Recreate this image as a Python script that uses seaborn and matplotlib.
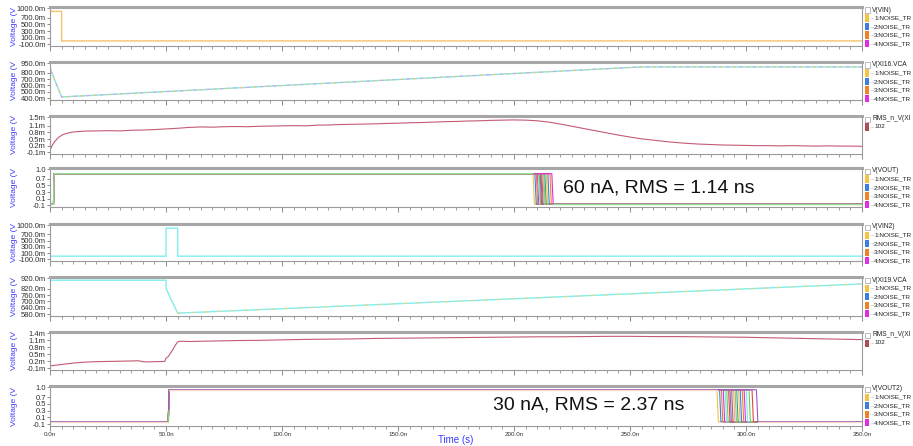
import numpy as np
import pandas as pd
import matplotlib
matplotlib.use("Agg")
import matplotlib.pyplot as plt
import seaborn as sns
from matplotlib.patches import Rectangle
from matplotlib.ticker import MultipleLocator

sns.set_theme(style="white")
plt.rcParams['font.family'] = ['Liberation Sans', 'DejaVu Sans']

# ---- data (time in ns, voltage in V, RMS in mV) ----
vin_t = [0, 0.02, 5.0, 5.02, 350]
vin_v = [0.0, 0.9, 0.9, 0.0, 0.0]

vcap1_t = [0, 0.3, 5.0, 255, 350]
vcap1_v = [0.93, 0.84, 0.42, 0.89, 0.89]

rms1_t = [0, 1, 2, 3, 4, 5, 6, 8, 10, 12, 15, 20, 25, 30, 35, 40, 45, 50, 55, 60, 65, 70, 75, 80,
          85, 90, 95, 100, 105, 110, 115, 120, 125, 130, 135, 140, 145, 150, 155, 160, 165, 170,
          175, 180, 185, 190, 195, 200, 205, 210, 215, 220, 225, 230, 235, 240, 245, 250, 255,
          260, 265, 270, 275, 280, 285, 290, 295, 300, 305, 310, 315, 320, 325, 330, 335, 340,
          345, 350]
rms1_v = [0.0, 0.22, 0.38, 0.5, 0.6, 0.67, 0.72, 0.78, 0.82, 0.84, 0.86, 0.87, 0.88, 0.87, 0.90,
          0.91, 0.93, 0.96, 0.99, 1.03, 1.05, 1.04, 1.06, 1.07, 1.06, 1.08, 1.09, 1.10, 1.11, 1.10,
          1.13, 1.14, 1.16, 1.17, 1.18, 1.19, 1.21, 1.22, 1.24, 1.25, 1.27, 1.29, 1.30, 1.32, 1.33,
          1.35, 1.36, 1.37, 1.36, 1.33, 1.27, 1.18, 1.08, 0.98, 0.88, 0.78, 0.68, 0.59, 0.51, 0.45,
          0.39, 0.34, 0.30, 0.27, 0.25, 0.23, 0.22, 0.21, 0.20, 0.20, 0.19, 0.20, 0.19, 0.18, 0.19,
          0.18, 0.18, 0.17]

vout_low, vout_high, vout_rise = -0.07, 0.86, 1.5
vout_fall = [208.2, 209.0, 209.6, 210.1, 210.5, 210.9, 211.3, 211.6, 212.0, 212.4,
             212.8, 213.3, 213.9, 214.6, 215.5, 216.3]

vin2_t = [0, 50, 50.02, 55, 55.02, 350]
vin2_v = [0.0, 0.0, 0.9, 0.9, 0.0, 0.0]

vcap2_t = [0, 50, 50.05, 55, 350]
vcap2_v = [0.90, 0.90, 0.82, 0.59, 0.865]

rms2_t = [0, 5, 10, 15, 20, 25, 30, 35, 38, 40, 42, 45, 49.5, 50, 51, 52, 53, 54, 55, 56, 60, 70,
          80, 90, 100, 110, 120, 130, 140, 150, 160, 170, 180, 190, 200, 210, 220, 230, 240, 250,
          260, 270, 280, 290, 300, 310, 320, 330, 340, 350]
rms2_v = [0.0, 0.06, 0.12, 0.16, 0.18, 0.19, 0.20, 0.21, 0.22, 0.18, 0.17, 0.18, 0.19, 0.33, 0.40,
          0.55, 0.70, 0.88, 1.02, 1.05, 1.04, 1.06, 1.08, 1.09, 1.11, 1.13, 1.14, 1.15, 1.17, 1.18,
          1.19, 1.20, 1.21, 1.22, 1.23, 1.24, 1.24, 1.25, 1.26, 1.26, 1.25, 1.25, 1.24, 1.23, 1.22,
          1.20, 1.18, 1.16, 1.14, 1.12]

vout2_low, vout2_high, vout2_rise = -0.03, 0.92, 51.0
vout2_fall = [287.5, 288.6, 289.4, 290.2, 291.0, 291.7, 292.5, 293.1, 293.8, 294.6,
              295.3, 296.0, 296.8, 297.5, 298.4, 299.2, 300.1, 301.3, 302.6, 304.5]

trace_colors = ["#f5c242", "#3b7de0", "#f08228", "#e02ee0", "#6ff0f0", "#6ccf5a",
                "#e04848", "#9a5ad8", "#a0703a", "#f59ac8", "#9ec83c", "#2aa8a8"]

yticks = {
    "vin": ([1.0, 0.7, 0.5, 0.3, 0.1, -0.1], ["1000.0m", "700.0m", "500.0m", "300.0m", "100.0m", "-100.0m"]),
    "vcap1": ([0.95, 0.8, 0.7, 0.6, 0.5, 0.4], ["950.0m", "800.0m", "700.0m", "600.0m", "500.0m", "400.0m"]),
    "rms1": ([1.5, 1.1, 0.8, 0.5, 0.2, -0.1], ["1.5m", "1.1m", "0.8m", "0.5m", "0.2m", "-0.1m"]),
    "vout": ([1.0, 0.7, 0.5, 0.3, 0.1, -0.1], ["1.0", "0.7", "0.5", "0.3", "0.1", "-0.1"]),
    "vcap2": ([0.92, 0.82, 0.76, 0.70, 0.64, 0.58], ["920.0m", "820.0m", "760.0m", "700.0m", "640.0m", "580.0m"]),
    "rms2": ([1.4, 1.1, 0.8, 0.5, 0.2, -0.1], ["1.4m", "1.1m", "0.8m", "0.5m", "0.2m", "-0.1m"]),
}
panel_keys = ["vin", "vcap1", "rms1", "vout", "vin", "vcap2", "rms2", "vout"]
# legend texts as far as they show before the right edge
legend_titles = ["V(VIN)", "V(XI16.VCA", "RMS_n_V(XI", "V(VOUT)",
                 "V(VIN2)", "V(XI19.VCA", "RMS_n_V(XI", "V(VOUT2)"]
entry_labels = ["1:NOISE_TR", "2:NOISE_TR", "3:NOISE_TR", "4:NOISE_TR"]

# ---- layout (pixels) ----
W, H = 913, 446
L, R = 50, 862
panels_px = [(7, 46), (62, 100), (116, 154), (168, 207), (224, 261), (277, 316), (332, 370), (386, 426)]

fig = plt.figure(figsize=(W / 100, H / 100), dpi=100)
axes = []
for top, bot in panels_px:
    ax = fig.add_axes([L / W, 1 - bot / H, (R - L) / W, (bot - top) / H])
    axes.append(ax)


def step_trace(rise, fall, lo, hi, edge=0.6):
    t = [0, rise, rise + 0.3, fall, fall + edge, 350]
    v = [lo, lo, hi, hi, lo, lo]
    return t, v


def bundle(ax, falls, rise, lo, hi):
    rows = []
    for i, tf in enumerate(falls):
        t, v = step_trace(rise, tf, lo, hi)
        for a, b in zip(t, v):
            rows.append((i, a, b))
    df = pd.DataFrame(rows, columns=["trace", "t", "v"])
    pal = {i: trace_colors[i % len(trace_colors)] for i in range(len(falls))}
    sns.lineplot(data=df, x="t", y="v", hue="trace", palette=pal, ax=ax, lw=0.8,
                 sort=False, estimator=None, legend=False)


# panel 1: V(VIN)
sns.lineplot(x=vin_t, y=vin_v, ax=axes[0], color="#f2c46d", lw=1.0, sort=False, estimator=None)

# panel 2: V(XI16.VCAP)
sns.lineplot(x=vcap1_t, y=vcap1_v, ax=axes[1], color="#7fe8e8", lw=1.0, sort=False, estimator=None)
sns.lineplot(x=vcap1_t, y=vcap1_v, ax=axes[1], color="#f2c46d", lw=0.8, sort=False, estimator=None,
             linestyle=(0, (3, 9)))
sns.lineplot(x=vcap1_t, y=vcap1_v, ax=axes[1], color="#e6a0d0", lw=0.8, sort=False, estimator=None,
             linestyle=(6, (3, 9)))

# panel 3: RMS
sns.lineplot(x=rms1_t, y=rms1_v, ax=axes[2], color="#c45a74", lw=0.8, sort=False, estimator=None)

# panel 4: V(VOUT) bundle
bundle(axes[3], vout_fall, vout_rise, vout_low, vout_high)
sns.lineplot(x=[0, vout_rise, vout_rise + 0.3, vout_fall[0]], y=[vout_low, vout_low, vout_high, vout_high],
             ax=axes[3], color="#90e090", lw=1.0, sort=False, estimator=None)
sns.lineplot(x=[vout_fall[-1] + 0.6, 350], y=[vout_low, vout_low],
             ax=axes[3], color="#90e090", lw=1.0, sort=False, estimator=None)

# panel 5: V(VIN2)
sns.lineplot(x=vin2_t, y=vin2_v, ax=axes[4], color="#80eeee", lw=1.0, sort=False, estimator=None)

# panel 6: V(XI19.VCAP)
sns.lineplot(x=vcap2_t, y=vcap2_v, ax=axes[5], color="#80eeee", lw=1.0, sort=False, estimator=None)
sns.lineplot(x=vcap2_t[3:], y=vcap2_v[3:], ax=axes[5], color="#f2d27d", lw=0.8, sort=False,
             estimator=None, linestyle=(0, (3, 9)))

# panel 7: RMS
sns.lineplot(x=rms2_t, y=rms2_v, ax=axes[6], color="#c45a74", lw=0.8, sort=False, estimator=None)

# panel 8: V(VOUT2) bundle
bundle(axes[7], vout2_fall, vout2_rise, vout2_low, vout2_high)
sns.lineplot(x=[0, vout2_rise], y=[vout2_low, vout2_low], ax=axes[7], color="#f0dcc6", lw=1.0,
             sort=False, estimator=None)
sns.lineplot(x=[vout2_rise + 0.3, vout2_fall[0]], y=[vout2_high, vout2_high], ax=axes[7],
             color="#f0dcc6", lw=1.0, sort=False, estimator=None)
sns.lineplot(x=[vout2_fall[-1] + 0.6, 350], y=[vout2_low, vout2_low], ax=axes[7], color="#f0dcc6",
             lw=1.0, sort=False, estimator=None)
sns.lineplot(x=[vout2_rise, vout2_rise + 0.3], y=[vout2_low, 0.3], ax=axes[7], color="#8fd070",
             lw=1.0, sort=False, estimator=None)

# ---- axes styling ----
xt = np.arange(0, 351, 50)
for k, (ax, key) in enumerate(zip(axes, panel_keys)):
    ticks, labels = yticks[key]
    lo, hi = min(ticks), max(ticks)
    span = hi - lo
    ax.set_ylim(lo - 0.05 * span, hi + 0.03 * span)
    ax.set_xlim(0, 350)
    ax.set_yticks(ticks)
    ax.set_yticklabels(labels, fontsize=5.5, color="#303030")
    ax.set_xticks(xt)
    ax.xaxis.set_minor_locator(MultipleLocator(5))
    ax.tick_params(axis="y", which="major", direction="out", length=2, width=0.6, pad=1,
                   left=True, color="#777777")
    ax.tick_params(axis="x", which="major", direction="out", length=3.5, width=0.6, bottom=True,
                   color="#777777")
    ax.tick_params(axis="x", which="minor", direction="out", length=2, width=0.5, bottom=True,
                   color="#777777")
    if k == len(axes) - 1:
        ax.set_xticklabels([f"{v:.1f}n" for v in xt], fontsize=4.5, color="#303030")
        ax.tick_params(axis="x", pad=1)
    else:
        ax.set_xticklabels([])
    ax.set_xlabel("")
    ax.set_ylabel("Voltage (V", fontsize=6, color="#3a3aff")
    ax.yaxis.set_label_coords(-0.04, 0.5)
    for s in ["left", "right", "bottom"]:
        ax.spines[s].set_color("#9a9a9a")
        ax.spines[s].set_linewidth(0.8)
    ax.spines["top"].set_color("#a6a6a6")
    ax.spines["top"].set_linewidth(2.2)
    ax.grid(False)

fig.text(456 / W, 1 - 440 / H, "Time (s)", fontsize=7, color="#3a3aff", ha="center", va="center")

# ---- legends on the right ----
for k, (top, bot) in enumerate(panels_px):
    y0 = top + 3
    fig.patches.append(Rectangle(((R + 3) / W, 1 - (y0 + 2.5) / H), 5 / W, 5 / H,
                                 transform=fig.transFigure, fill=False, ec="#b0b0b0", lw=0.6))
    fig.text((R + 10) / W, 1 - y0 / H, legend_titles[k], fontsize=4.8, color="#202020",
             va="center", ha="left")
    if k in (2, 6):
        entries = [("102", "#b04a5e")]
    else:
        entries = list(zip(entry_labels, trace_colors[:4]))
    for j, (lab, col) in enumerate(entries):
        yc = y0 + 8 + j * 8.5
        fig.patches.append(Rectangle(((R + 3) / W, 1 - (yc + 3.5) / H), 4 / W, 7 / H,
                                     transform=fig.transFigure, color=col, lw=0))
        fig.lines.append(plt.Line2D([(R + 8) / W, (R + 11.5) / W], [1 - yc / H, 1 - yc / H],
                                    transform=fig.transFigure, color="#aaaaaa", lw=0.5,
                                    linestyle=(0, (1, 1))))
        fig.text((R + 12) / W, 1 - yc / H, lab, fontsize=4.6, color="#202020", va="center", ha="left")

# ---- annotations ----
axes[3].text((563 - L) / (R - L), 0.48, "60 nA, RMS = 1.14 ns", transform=axes[3].transAxes,
             fontsize=14, va="center", ha="left", color="#111111")
axes[7].text((493 - L) / (R - L), 0.52, "30 nA, RMS = 2.37 ns", transform=axes[7].transAxes,
             fontsize=14, va="center", ha="left", color="#111111")

fig.savefig("out.png", dpi=100)
